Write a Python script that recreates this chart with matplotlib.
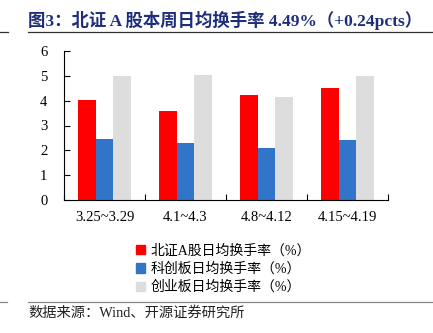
import numpy as np
import matplotlib
matplotlib.use('Agg')
import matplotlib.pyplot as plt
from matplotlib.lines import Line2D

# data
weeks = ['3.25~3.29', '4.1~4.3', '4.8~4.12', '4.15~4.19']
bj_rate = [4.01, 3.58, 4.24, 4.49]
kc_rate = [2.46, 2.30, 2.08, 2.42]
cy_rate = [5.00, 5.03, 4.14, 4.98]
series_names = ['北证A股日均换手率（%）', '科创板日均换手率（%）', '创业板日均换手率（%）']
colors = ['#FF0000', '#3275C8', '#DDDDDD']

fam = ['Liberation Serif', 'Noto Sans CJK SC']
plt.rcParams['font.family'] = fam

fig = plt.figure(figsize=(4.33, 3.33), dpi=100)
W, H = 433, 333
ax = fig.add_axes([64 / W, 1 - 200.3 / H, (388 - 64) / W, (200.3 - 50.7) / H])

x = np.arange(len(weeks))
bw = 0.222
for i, vals in enumerate([bj_rate, kc_rate, cy_rate]):
    ax.bar(x + (i - 1) * bw, vals, width=bw, color=colors[i], label=series_names[i])

ax.set_xlim(-0.5, len(weeks) - 0.5)
ax.set_ylim(0, 6)
ax.set_yticks(range(7))
ax.set_xticks(np.arange(len(weeks) + 1) - 0.5)
ax.set_xticklabels([])
ax.set_xticks(x, minor=True)
ax.set_xticklabels(weeks, minor=True)
ax.tick_params(axis='x', which='minor', length=0, labelsize=10.5, pad=8)
ax.tick_params(axis='x', which='major', direction='in', length=4, width=0.8)
ax.tick_params(axis='y', direction='in', length=4, width=0.8, labelsize=10.5, pad=12)
for s in ['top', 'right']:
    ax.spines[s].set_visible(False)
ax.spines['left'].set_linewidth(0.8)
ax.spines['bottom'].set_linewidth(0.8)

# legend
handles = [plt.Rectangle((0, 0), 1, 1, color=c) for c in colors]
fig.legend(handles, series_names, loc='upper left', bbox_to_anchor=(129 / W, 1 - 237 / H),
           frameon=False, fontsize=10, handlelength=0.65, handleheight=0.65,
           handletextpad=0.4, labelspacing=0.35, borderpad=0)

# title and lines
fig.text(28 / W, 1 - 20 / H, '图3：北证 A 股本周日均换手率 4.49%（+0.24pcts）',
         fontsize=12.5, fontweight='bold', color='#1F2E7A', va='center', ha='left')
fig.add_artist(Line2D([28 / W, 1], [1 - 31.5 / H] * 2, color='#333333', lw=0.9))
fig.add_artist(Line2D([0, 8 / W], [1 - 32 / H] * 2, color='#333333', lw=0.9))
fig.add_artist(Line2D([28 / W, 1], [1 - 302 / H] * 2, color='#888888', lw=0.9))
fig.add_artist(Line2D([0, 7 / W], [1 - 302 / H] * 2, color='#888888', lw=0.9))
fig.text(28 / W, 1 - 313 / H, '数据来源：Wind、开源证券研究所', fontsize=10.3,
         color='#222222', va='center', ha='left')

fig.savefig('out.png', dpi=100)
